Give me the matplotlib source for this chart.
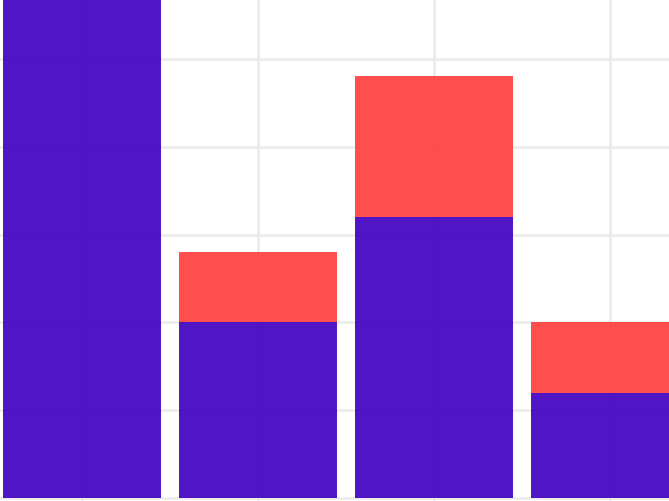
import matplotlib
matplotlib.use("Agg")
import matplotlib.pyplot as plt

# data
categories = ["A", "B", "C", "D"]
base_vals = [6.0, 2.0, 3.2, 1.2]
top_vals = [0.0, 0.8, 1.6, 0.8]

blue = "#4609C3"
red = "#FF4444"

fig = plt.figure(figsize=(6.69, 5.02), dpi=100)
ax = fig.add_axes([0, 0, 1, 1])

x = list(range(len(categories)))
# bars slightly see-through, grid sits under them
ax.bar(x, base_vals, width=0.9, color=blue, alpha=0.95)
ax.bar(x, top_vals, width=0.9, bottom=base_vals, color=red, alpha=0.95)

ax.set_xlim(-0.466, 3.335)
ax.set_ylim(-0.035, 5.682)
ax.set_xticks(x)
ax.set_yticks([0, 1, 2, 3, 4, 5])

ax.set_axisbelow(True)
ax.grid(True, color="#ebebeb", linewidth=1.8)
ax.tick_params(length=0, labelbottom=False, labelleft=False)
for s in ax.spines.values():
    s.set_visible(False)

fig.savefig("out.png", dpi=100)
